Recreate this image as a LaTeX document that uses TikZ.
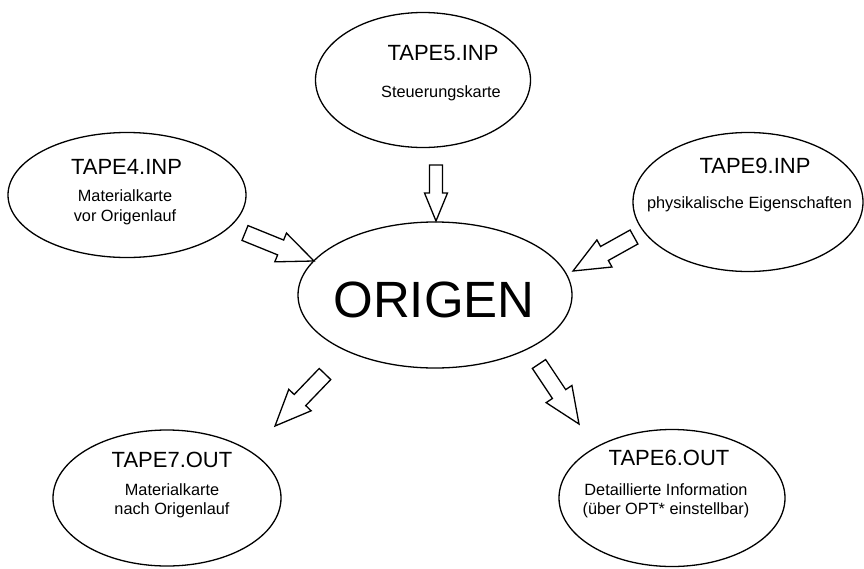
\documentclass[tikz,border=0pt]{standalone}
\usepackage{fontspec}
\setmainfont{Liberation Sans}
\usetikzlibrary{shapes.geometric,calc}
\tikzset{
  ell/.style={draw, ellipse, line width=1.3pt, inner sep=0pt},
  ttl/.style={inner sep=0pt, anchor=base, font=\fontsize{22}{26}\selectfont},
  sub/.style={inner sep=0pt, anchor=base, font=\fontsize{16.3}{19.5}\selectfont},
  big/.style={inner sep=0pt, anchor=base, font=\fontsize{51}{60}\selectfont},
  blockarr/.style={draw, line width=1.3pt, line join=miter, fill=white}
}
\newcommand{\blockarrow}[5]{%
  \path let \p1=($(#2)-(#1)$), \n1={atan2(\y1,\x1)}, \n2={veclen(\x1,\y1)} in
    \pgfextra{\pgfmathsetmacro{\baang}{\n1}\xdef\baang{\baang}\pgfmathsetmacro{\balen}{\n2}\xdef\balen{\balen}};
  \draw[blockarr, shift={(#1)}, rotate=\baang]
    (0pt,-#3pt) -- ({\balen pt-#5pt},-#3pt) -- ({\balen pt-#5pt},-#4pt) -- (\balen pt,0pt)
    -- ({\balen pt-#5pt},#4pt) -- ({\balen pt-#5pt},#3pt) -- (0pt,#3pt) -- cycle;
}
\begin{document}
\begin{tikzpicture}[x=1pt,y=-1pt]
\useasboundingbox (0,0) rectangle (864,568);
% ellipses
\node[ell, minimum width=215pt, minimum height=135pt] (t5) at (423,80) {};
\node[ell, minimum width=238pt, minimum height=125pt] (t4) at (127,195) {};
\node[ell, minimum width=230pt, minimum height=139pt] (t9) at (748,202) {};
\node[ell, minimum width=274pt, minimum height=146pt] (org) at (435,295) {};
\node[ell, minimum width=228pt, minimum height=136pt] (t7) at (167,498) {};
\node[ell, minimum width=226pt, minimum height=137pt] (t6) at (672,498) {};
% texts
\node[big] (orgt) at (434,317) {ORIGEN};
\node[ttl] (t5a) at (443,60) {TAPE5.INP};
\node[sub] (t5b) at (441,97) {Steuerungskarte};
\node[ttl] (t4a) at (126.5,174) {TAPE4.INP};
\node[sub] (t4b) at (125,201) {Materialkarte};
\node[sub] (t4c) at (125,221) {vor Origenlauf};
\node[ttl] (t9a) at (755,173) {TAPE9.INP};
\node[sub] (t9b) at (749.5,208) {physikalische Eigenschaften};
\node[ttl] (t7a) at (172,467) {TAPE7.OUT};
\node[sub] (t7b) at (172,495) {Materialkarte};
\node[sub] (t7c) at (172,514) {nach Origenlauf};
\node[ttl] (t6a) at (669,465) {TAPE6.OUT};
\node[sub] (t6b) at (666,495) {Detaillierte Information};
\node[sub] (t6c) at (666,514) {(über OPT* einstellbar)};
% arrow end points
\coordinate (a1s) at (436,165);
\coordinate (a1e) at (436,221);
\coordinate (a2s) at (245,233);
\coordinate (a2e) at (314,261);
\coordinate (a3s) at (634,237);
\coordinate (a3e) at (573,271);
\coordinate (a4s) at (325,374);
\coordinate (a4e) at (275,426);
\coordinate (a5s) at (539,364);
\coordinate (a5e) at (579,424);
\blockarrow{a1s}{a1e}{6.5}{11.5}{28}
\blockarrow{a2s}{a2e}{8}{15.5}{36}
\blockarrow{a3s}{a3e}{8}{15.5}{36}
\blockarrow{a4s}{a4e}{8}{15.5}{36}
\blockarrow{a5s}{a5e}{8}{15.5}{36}
\end{tikzpicture}
\end{document}
